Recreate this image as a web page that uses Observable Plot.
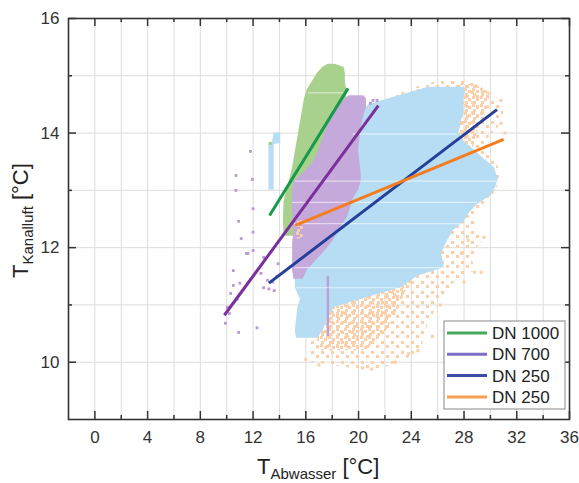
<!DOCTYPE html>
<html><head><meta charset="utf-8">
<script src="https://cdn.jsdelivr.net/npm/d3@7"></script>
<script src="https://cdn.jsdelivr.net/npm/@observablehq/plot@0.6"></script>
<style>body{margin:0;background:#fff;}</style>
</head><body><div id="chart"></div>
<script>
// ---- axes ----
const xTicks = [0, 4, 8, 12, 16, 20, 24, 28, 32, 36];
const xMinor = [2, 6, 10, 14, 18, 22, 26, 30, 34];
const yTicks = [10, 12, 14, 16];
const yMinor = [11, 13, 15];
const xGrid = [0, 2, 4, 6, 8, 10, 12, 14, 16, 18, 20, 22, 24, 26, 28, 30, 32, 34];
const yGrid = [10, 11, 12, 13, 14, 15];

// ---- point clouds: [T_Kanalluft, T_Abwasser min, T_Abwasser max] ----
const orangeCloud = [
  [9.88, 19.8, 21.8], [10.0, 16.4, 23.0], [10.15, 16.3, 24.6], [10.4, 16.3, 25.0],
  [10.6, 16.5, 25.2], [10.8, 17.0, 25.6], [11.0, 17.5, 26.0], [11.2, 18.5, 26.6],
  [11.4, 20.0, 27.3], [11.6, 21.0, 28.9], [11.8, 22.0, 28.6], [12.0, 23.0, 29.0],
  [12.15, 24.0, 29.6], [12.35, 25.0, 28.8], [12.6, 26.0, 29.0], [12.9, 26.0, 30.2],
  [13.2, 26.0, 30.8], [13.5, 26.0, 30.5], [13.7, 26.0, 29.4], [13.9, 25.5, 29.8],
  [14.1, 25.0, 30.6], [14.3, 23.0, 31.0], [14.45, 21.5, 31.0], [14.6, 22.3, 30.6],
  [14.75, 23.8, 29.8], [14.85, 25.0, 28.8], [14.92, 26.5, 28.0]
];
const orangeDenseLow = [
  [10.2, 17.0, 20.5], [10.5, 16.8, 22.0], [10.9, 17.2, 23.0], [11.2, 18.5, 23.5],
  [11.5, 20.5, 24.5], [11.7, 22.0, 25.5]
];
const orangeDenseTop = [
  [13.6, 27.0, 28.5], [14.0, 26.5, 29.0], [14.4, 26.0, 29.8], [14.7, 27.0, 30.0], [14.85, 27.5, 29.0]
];
const orangePatch = [[12.15, 15.2, 15.8], [12.47, 15.2, 15.8]];
const blueCloud = [
  [10.42, 15.3, 16.9], [10.55, 15.2, 17.3], [10.75, 15.3, 17.7], [10.95, 15.4, 18.1],
  [11.1, 15.6, 20.2], [11.3, 15.2, 23.2], [11.5, 15.2, 24.5], [11.65, 15.2, 26.5],
  [11.9, 16.0, 26.3], [12.1, 17.5, 26.7], [12.3, 18.0, 27.2], [12.45, 18.5, 28.0],
  [12.6, 18.8, 28.4], [12.75, 19.0, 29.0], [12.9, 19.2, 30.0], [13.05, 19.5, 30.4],
  [13.2, 19.5, 30.6], [13.4, 19.5, 30.3], [13.55, 19.5, 29.5], [13.7, 19.5, 28.8],
  [13.85, 19.5, 28.0], [14.0, 19.5, 27.6], [14.2, 19.5, 27.8], [14.35, 20.2, 28.0],
  [14.5, 20.8, 28.0], [14.6, 22.3, 28.0], [14.7, 23.8, 28.1], [14.8, 25.3, 28.0]
];
const blueStrip = [[13.0, 13.2, 13.6], [13.8, 13.2, 13.6], [13.82, 13.45, 14.1], [14.0, 13.6, 14.1]];
const greenCloud = [
  [12.2, 14.35, 15.2], [12.5, 14.3, 15.3], [12.8, 14.35, 15.4], [13.0, 14.55, 15.6],
  [13.2, 14.8, 16.0], [13.4, 15.0, 16.8], [13.6, 15.15, 17.2], [13.8, 15.3, 17.5],
  [14.0, 15.45, 17.9], [14.2, 15.6, 18.3], [14.4, 15.75, 18.8], [14.6, 15.9, 19.1],
  [14.75, 16.1, 19.1], [14.9, 16.5, 19.0], [15.05, 16.9, 19.0], [15.15, 17.3, 18.9],
  [15.2, 17.7, 18.2]
];
const purpleCloud = [
  [11.45, 15.1, 15.8], [11.6, 15.0, 16.1], [11.8, 15.0, 16.9], [11.95, 15.0, 17.5],
  [12.1, 15.0, 18.0], [12.25, 15.1, 18.4], [12.4, 15.0, 18.8], [12.55, 15.0, 19.2],
  [12.7, 15.0, 19.4], [12.85, 15.0, 19.6], [13.0, 15.0, 20.0], [13.15, 15.1, 20.2],
  [13.3, 15.8, 20.2], [13.5, 16.6, 20.1], [13.7, 17.0, 20.0], [13.9, 17.3, 20.1],
  [14.1, 17.6, 20.2], [14.3, 18.0, 20.4], [14.45, 18.4, 20.6], [14.6, 19.0, 20.6],
  [14.65, 19.3, 20.4]
];
const purpleStrip = [[10.45, 17.62, 17.8], [11.5, 17.62, 17.8]];
// data gaps (rows without measurements): [T_Kanalluft, from, to]
const gapRows = [
  [14.7, 16.2, 19.0], [13.98, 19.6, 27.5], [13.16, 15.2, 30.5], [12.79, 15.0, 29.0],
  [12.42, 15.1, 28.0], [11.65, 15.2, 26.4], [11.3, 15.3, 23.0]
];
// scattered single points [T_Abwasser, T_Kanalluft]
const purpleDots = [
  [11.8, 13.68], [10.7, 13.26], [11.95, 13.19], [10.7, 13.0], [12.0, 12.68], [10.9, 12.46],
  [12.0, 12.27], [11.1, 12.16], [12.0, 11.95], [11.5, 11.9], [10.5, 11.6], [10.5, 11.34],
  [11.0, 11.38], [10.05, 10.96], [9.9, 10.68], [10.9, 10.52], [12.3, 10.6], [11.6, 11.9],
  [12.6, 11.55], [12.8, 11.83], [13.1, 11.43], [13.5, 11.4], [13.8, 11.5], [13.9, 11.72],
  [12.8, 11.3], [13.2, 11.28], [13.6, 11.25], [10.3, 11.2], [10.8, 11.1], [10.2, 10.85],
  [21.1, 14.57], [21.4, 14.57], [20.9, 14.52]
];
const orangeDots = [
  [24.5, 10.2], [25.6, 10.45], [26.2, 11.0], [27.8, 11.9], [28.3, 12.13], [29.5, 12.18],
  [28.8, 11.57], [29.3, 11.57], [28.0, 11.4], [30.8, 14.57], [30.8, 14.17], [31.1, 14.0],
  [22.5, 14.57], [21.7, 14.4], [24.5, 14.74], [28.6, 14.85], [29.8, 14.7], [16.0, 10.05],
  [17.0, 9.95], [20.3, 9.9], [21.0, 9.88], [22.8, 10.0], [23.8, 10.15]
];
const greenDots = [[13.3, 13.82]];

// ---- regression lines ----
const fitNames = ["DN 1000", "DN 700", "DN 250", "DN 250"];
const fitX1 = [13.25, 9.82, 13.2, 15.2];
const fitY1 = [12.56, 10.82, 11.38, 12.39];
const fitX2 = [19.2, 21.5, 30.5, 31.0];
const fitY2 = [14.78, 14.48, 14.41, 13.89];
const fitColors = ["#179a49", "#7b2f9b", "#24409a", "#f47d20"];
const legendColors = ["#48a85a", "#7e6dc6", "#3b4ea6", "#f59f52"];
const fits = fitNames.map((n, i) => ({name: n, x1: fitX1[i], y1: fitY1[i], x2: fitX2[i], y2: fitY2[i], color: fitColors[i]}));

const area = (data, fill) => Plot.areaX(data, {y: d => d[0], x1: d => d[1], x2: d => d[2], fill, curve: "linear"});
const H = 483 - 18 - 64, W = 579 - 68 - 10;
const FONT = "'Liberation Sans', Arial, sans-serif";

const svg = Plot.plot({
  width: 579, height: 483,
  marginLeft: 68, marginRight: 10, marginTop: 18, marginBottom: 64,
  x: {domain: [-2, 36]},
  y: {domain: [9, 16]},
  style: {fontFamily: FONT, fontSize: "17px", color: "#333", background: "#fff"},
  marks: [
    Plot.ruleX(xGrid, {x: d => d, stroke: "#dddddd", strokeWidth: 1}),
    Plot.ruleY(yGrid, {y: d => d, stroke: "#dddddd", strokeWidth: 1}),
    area(orangeCloud, "url(#orSparse)"),
    area(orangeDenseLow, "url(#orDense)"),
    area(orangeDenseTop, "url(#orDense)"),
    Plot.dot(orangeDots, {x: d => d[0], y: d => d[1], symbol: "square", r: 1.7, fill: "#fbd0a8"}),
    area(blueCloud, "#b7ddf5"),
    area(blueStrip, "#b7ddf5"),
    area(greenCloud, "#a9d18e"),
    area(purpleCloud, "#c6a9db"),
    area(purpleStrip, "#bd9fd6"),
    area(orangePatch, "url(#orDense)"),
    Plot.ruleY(gapRows, {y: d => d[0], x1: d => d[1], x2: d => d[2], stroke: "#ffffff", strokeOpacity: 0.55, strokeWidth: 1.2}),
    Plot.dot(purpleDots, {x: d => d[0], y: d => d[1], symbol: "square", r: 1.6, fill: "#b89bd6"}),
    Plot.dot(greenDots, {x: d => d[0], y: d => d[1], symbol: "square", r: 1.6, fill: "#9cc97e"}),
    Plot.link(fits, {x1: "x1", y1: "y1", x2: "x2", y2: "y2", stroke: "color", strokeWidth: 3}),
    // ticks (inward, on all four sides)
    Plot.ruleX(xTicks, {x: d => d, insetTop: H - 8, stroke: "#333", strokeWidth: 1.5}),
    Plot.ruleX(xMinor, {x: d => d, insetTop: H - 4, stroke: "#333", strokeWidth: 1.5}),
    Plot.ruleX(xTicks, {x: d => d, insetBottom: H - 8, stroke: "#333", strokeWidth: 1.5}),
    Plot.ruleX(xMinor, {x: d => d, insetBottom: H - 4, stroke: "#333", strokeWidth: 1.5}),
    Plot.ruleY(yTicks, {y: d => d, insetRight: W - 8, stroke: "#333", strokeWidth: 1.5}),
    Plot.ruleY(yMinor, {y: d => d, insetRight: W - 4, stroke: "#333", strokeWidth: 1.5}),
    Plot.ruleY(yTicks, {y: d => d, insetLeft: W - 8, stroke: "#333", strokeWidth: 1.5}),
    Plot.ruleY(yMinor, {y: d => d, insetLeft: W - 4, stroke: "#333", strokeWidth: 1.5}),
    Plot.axisX({ticks: xTicks, tickSize: 0, tickPadding: 11, label: null, tickFormat: d => String(d)}),
    Plot.axisY({ticks: yTicks, tickSize: 0, tickPadding: 9, label: null, tickFormat: d => String(d)}),
    Plot.frame({stroke: "#333", strokeWidth: 1.6})
  ]
});

const s = d3.select(svg);
// dotted fills for the sparse orange scatter
const defs = s.insert("defs", ":first-child");
const p1 = defs.append("pattern").attr("id", "orSparse").attr("width", 10).attr("height", 10).attr("patternUnits", "userSpaceOnUse");
[[1, 1], [6, 5]].forEach(([a, b]) => p1.append("rect").attr("x", a).attr("y", b).attr("width", 3).attr("height", 3).attr("fill", "#fbd0a8"));
const p2 = defs.append("pattern").attr("id", "orDense").attr("width", 8).attr("height", 8).attr("patternUnits", "userSpaceOnUse");
[[0, 0], [4, 2], [1, 5]].forEach(([a, b]) => p2.append("rect").attr("x", a).attr("y", b).attr("width", 3).attr("height", 3).attr("fill", "#fbd0a8"));

// x axis title
const xt = s.append("text").attr("x", 257).attr("y", 474).attr("fill", "#222")
  .attr("text-anchor", "start").style("font-family", FONT);
xt.append("tspan").attr("font-size", 22).text("T");
xt.append("tspan").attr("font-size", 15).attr("dy", 5).text("Abwasser");
xt.append("tspan").attr("font-size", 22).attr("dy", -5).text(" [°C]");
// y axis title
const yt = s.append("text").attr("transform", "translate(28,278) rotate(-90)").attr("fill", "#222")
  .attr("text-anchor", "start").style("font-family", FONT);
yt.append("tspan").attr("font-size", 22).text("T");
yt.append("tspan").attr("font-size", 15).attr("dy", 5).text("Kanalluft");
yt.append("tspan").attr("font-size", 22).attr("dy", -5).text(" [°C]");

// legend
const lg = s.append("g").style("font-family", FONT).attr("text-anchor", "start");
lg.append("rect").attr("x", 444).attr("y", 321).attr("width", 121).attr("height", 88)
  .attr("fill", "#fff").attr("stroke", "#888").attr("stroke-width", 1);
fitNames.forEach((n, i) => {
  const y = 333 + i * 21.3;
  lg.append("line").attr("x1", 447).attr("x2", 487).attr("y1", y).attr("y2", y)
    .attr("stroke", legendColors[i]).attr("stroke-width", 3);
  lg.append("text").attr("x", 492).attr("y", y + 6).attr("font-size", 17).attr("fill", "#222").text(n);
});

document.getElementById("chart").appendChild(svg);
</script>
</body></html>
